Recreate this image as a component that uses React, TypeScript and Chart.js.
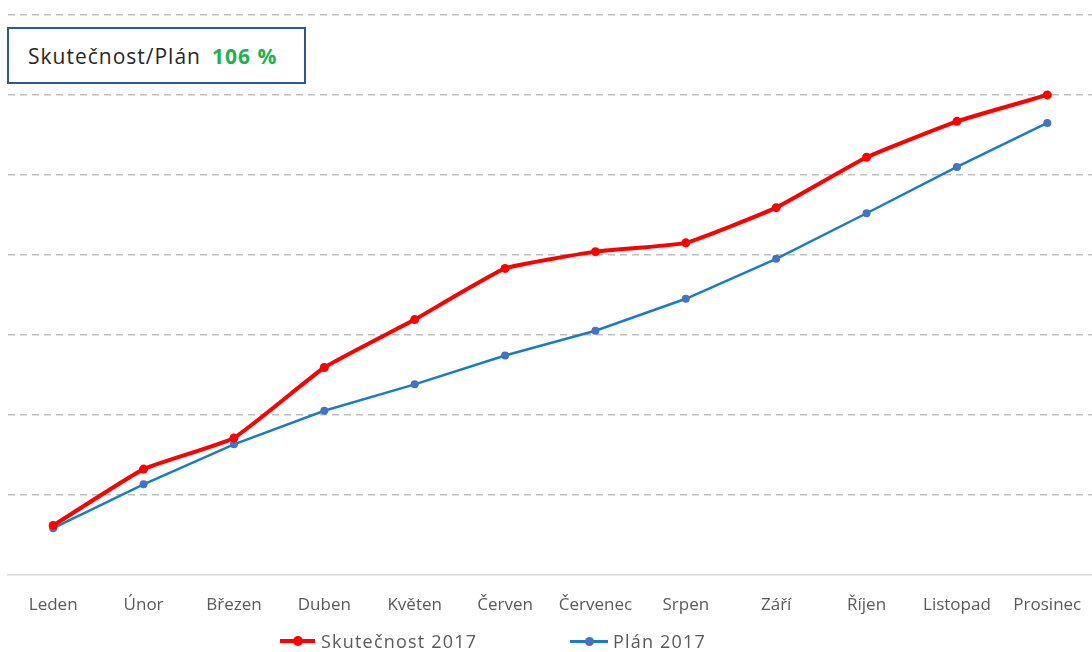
import React, { useEffect, useRef } from "react";
import { Chart, registerables } from "chart.js";

Chart.register(...registerables);

const months = ["Leden", "Únor", "Březen", "Duben", "Květen", "Červen", "Červenec", "Srpen", "Září", "Říjen", "Listopad", "Prosinec"];
const actual2017 = [6.15, 13.2, 17.1, 25.9, 31.9, 38.3, 40.4, 41.5, 45.9, 52.2, 56.7, 60.0];
const plan2017 = [5.8, 11.3, 16.3, 20.5, 23.8, 27.4, 30.5, 34.5, 39.5, 45.2, 51.0, 56.5];
const seriesNames = ["Skutečnost 2017", "Plán 2017"];
const ratioLabel = "Skutečnost/Plán";
const ratioValue = "106 %";

const FONT = "'Open Sans', Lato, sans-serif";

export default function App() {
  const ref = useRef<HTMLCanvasElement | null>(null);
  useEffect(() => {
    if (!ref.current) return;
    const chart = new Chart(ref.current, {
      type: "line",
      data: {
        labels: months,
        datasets: [
          {
            label: seriesNames[0],
            data: actual2017,
            borderColor: "#FF0000",
            backgroundColor: "#FF0000",
            borderWidth: 4,
            pointRadius: 4.5,
            pointBackgroundColor: "#FF0000",
            pointBorderWidth: 0,
            tension: 0.12,
          },
          {
            label: seriesNames[1],
            data: plan2017,
            borderColor: "#1B7BCB",
            backgroundColor: "#4472C4",
            borderWidth: 2.5,
            pointRadius: 4,
            pointBackgroundColor: "#4472C4",
            pointBorderWidth: 0,
            tension: 0,
          },
        ],
      },
      options: {
        responsive: false,
        animation: false,
        layout: { padding: { left: 8, right: 0, top: 15, bottom: 25 } },
        plugins: { legend: { display: false }, tooltip: { enabled: false } },
        scales: {
          x: {
            offset: true,
            grid: { display: false },
            border: { display: true, color: "#D9D9D9", width: 1.5 },
            ticks: { color: "#595959", font: { family: FONT, size: 17 }, padding: 12, maxRotation: 0, autoSkip: false },
          },
          y: {
            min: 0,
            max: 70,
            ticks: { display: false, stepSize: 10 },
            border: { display: false, dash: [7, 5] },
            grid: {
              drawTicks: false,
              color: (ctx: any) => (ctx.tick && ctx.tick.value === 0 ? "rgba(0,0,0,0)" : "#BFBFBF"),
              lineWidth: 1.5,
            },
          },
        },
      },
    });
    return () => chart.destroy();
  }, []);

  return (
    <div style={{ position: "absolute", left: 0, top: 0, width: 1092, height: 652, background: "#fff", fontFamily: FONT, overflow: "hidden" }}>
      <canvas ref={ref} width={1097} height={652} style={{ position: "absolute", left: 0, top: 0 }} />
      <div
        style={{
          position: "absolute",
          left: 7,
          top: 27,
          width: 295,
          height: 53,
          border: "2px solid #2F5597",
          background: "#fff",
          display: "flex",
          alignItems: "center",
          fontSize: 21,
          color: "#262626",
          boxSizing: "content-box",
        }}
      >
        <span style={{ marginLeft: 19, letterSpacing: 1 }}>{ratioLabel}</span>
        <span style={{ marginLeft: 11, color: "#1FB050", fontWeight: 700, letterSpacing: 1 }}>{ratioValue}</span>
      </div>
      <div style={{ position: "absolute", left: 280, top: 629, height: 24, display: "flex", alignItems: "center", fontSize: 18, color: "#595959" }}>
        <span style={{ position: "relative", width: 35, height: 4, background: "#FF0000", display: "inline-block" }}>
          <span style={{ position: "absolute", left: 13, top: -3, width: 10, height: 10, borderRadius: 5, background: "#FF0000" }} />
        </span>
        <span style={{ marginLeft: 6, letterSpacing: 1.2 }}>{seriesNames[0]}</span>
      </div>
      <div style={{ position: "absolute", left: 570, top: 629, height: 24, display: "flex", alignItems: "center", fontSize: 18, color: "#595959" }}>
        <span style={{ position: "relative", width: 38, height: 3, background: "#1B7BCB", display: "inline-block" }}>
          <span style={{ position: "absolute", left: 15, top: -3, width: 9, height: 9, borderRadius: 5, background: "#4472C4" }} />
        </span>
        <span style={{ marginLeft: 5, letterSpacing: 1.2 }}>{seriesNames[1]}</span>
      </div>
    </div>
  );
}
